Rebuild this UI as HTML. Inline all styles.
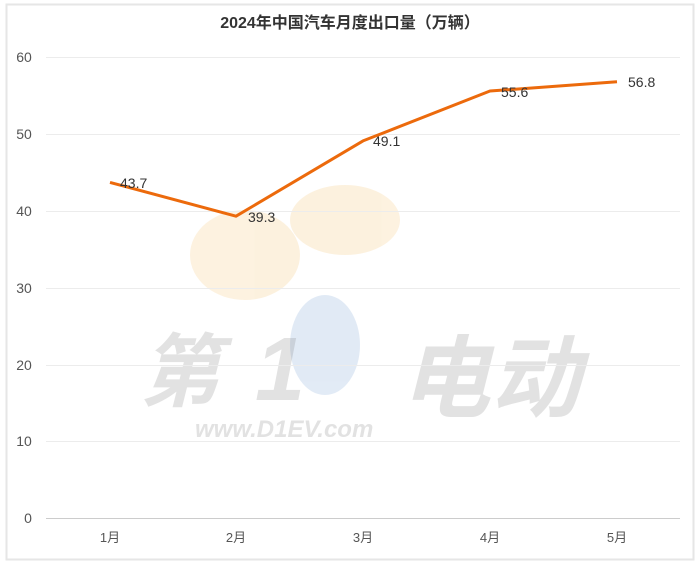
<!DOCTYPE html>
<html><head><meta charset="utf-8"><style>
body{margin:0;width:700px;height:566px;background:#fff;overflow:hidden}
</style></head><body>
<svg width="700" height="566" xmlns="http://www.w3.org/2000/svg" font-family="Liberation Sans, Noto Sans CJK SC, sans-serif">
<rect x="6.5" y="4.5" width="687" height="555" fill="#fff" stroke="#e6e6e6" stroke-width="2"/>
<text x="350" y="28" text-anchor="middle" font-size="16" font-weight="bold" fill="#333">2024年中国汽车月度出口量（万辆）</text>
<g opacity="0.14">
<ellipse cx="245" cy="255" rx="55" ry="45" fill="#f0a020"/>
<ellipse cx="345" cy="220" rx="55" ry="35" fill="#f0a020"/>
<ellipse cx="325" cy="345" rx="35" ry="50" fill="#3070c0"/>
</g>
<g opacity="0.18">
<text x="140" y="400" font-size="80" font-weight="bold" font-style="italic" fill="#666">第</text>
<text x="255" y="400" font-size="90" font-weight="bold" font-style="italic" fill="#666">1</text>
<text x="400" y="410" font-size="90" font-weight="bold" font-style="italic" fill="#666">电动</text>
<text x="195" y="437" font-size="24" font-weight="bold" font-style="italic" fill="#666">www.D1EV.com</text>
</g>
<g stroke="#ececec" stroke-width="1">
<line x1="46" x2="680" y1="57.5" y2="57.5"/><line x1="46" x2="680" y1="134.5" y2="134.5"/>
<line x1="46" x2="680" y1="211.5" y2="211.5"/><line x1="46" x2="680" y1="288.5" y2="288.5"/>
<line x1="46" x2="680" y1="365.5" y2="365.5"/><line x1="46" x2="680" y1="441.5" y2="441.5"/>
</g>
<line x1="46" x2="680" y1="518.5" y2="518.5" stroke="#ccc"/>
<g font-size="14" fill="#555" text-anchor="middle">
<text x="24" y="62">60</text><text x="24" y="139">50</text><text x="24" y="216">40</text>
<text x="24" y="293">30</text><text x="24" y="370">20</text><text x="24" y="446">10</text><text x="28" y="523">0</text>
</g>
<g font-size="13" fill="#555" text-anchor="middle">
<text x="110" y="542">1月</text><text x="236" y="542">2月</text><text x="363" y="542">3月</text><text x="490" y="542">4月</text><text x="617" y="542">5月</text>
</g>
<polyline points="110,182.4 236,216.2 363,140.9 490,91 617,81.8" fill="none" stroke="#ec6a0c" stroke-width="3" stroke-linejoin="round"/>
<g font-size="14" fill="#333">
<text x="120" y="188">43.7</text><text x="248" y="222">39.3</text><text x="373" y="146">49.1</text>
<text x="501" y="97">55.6</text><text x="628" y="87">56.8</text>
</g>
</svg>
</body></html>
